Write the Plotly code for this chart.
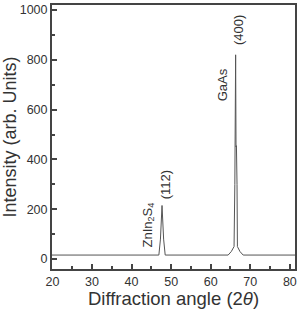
import plotly.graph_objects as go

# XRD profile
two_theta = [19.9, 46.9, 47.3, 47.7, 48.1, 48.5, 64.4, 65.2, 65.9, 66.1, 66.3, 66.4, 66.5, 66.65, 66.75, 67.4, 68.2, 81.3]
intensity = [16, 16, 80, 215, 80, 16, 16, 30, 50, 300, 820, 450, 455, 300, 50, 30, 16, 16]

x_ticks = [20, 30, 40, 50, 60, 70, 80]
y_ticks = [0, 200, 400, 600, 800, 1000]

txt = "#333333"
axc = "#444444"
font = "Liberation Sans, Arial, sans-serif"

fig = go.Figure()
fig.add_trace(go.Scatter(x=two_theta, y=intensity, mode="lines",
                         line=dict(color="#555555", width=1), showlegend=False))

ann = dict(textangle=-90, showarrow=False, font=dict(size=13, color=txt, family=font),
           xref="x", yref="y")
fig.add_annotation(x=44.3, y=137, text="ZnIn<sub>2</sub>S<sub>4</sub>", **ann)
fig.add_annotation(x=48.5, y=297, text="(112)", **ann)
fig.add_annotation(x=63.2, y=699, text="GaAs", **ann)
fig.add_annotation(x=67.2, y=920, text="(400)", **ann)

fig.update_layout(
    width=298, height=309,
    margin=dict(l=52, r=1, t=5, b=40),
    paper_bgcolor="white", plot_bgcolor="white",
    font=dict(family=font, color=txt),
    xaxis=dict(range=[19.9, 81.3], tickvals=x_ticks, ticks="inside", ticklen=5,
               tickcolor=axc, tickwidth=1.5,
               minor=dict(dtick=5, tick0=0, ticks="inside", ticklen=3, tickcolor=axc),
               showline=True, linecolor=axc, linewidth=2, mirror=True,
               showgrid=False, zeroline=False, tickfont=dict(size=12.5, color=txt),
               title=dict(text="Diffraction angle (2<i>θ</i>)", font=dict(size=18.5, color=txt), standoff=2)),
    yaxis=dict(range=[-40, 1020], tickvals=y_ticks, ticks="inside", ticklen=5,
               tickcolor=axc, tickwidth=1.5,
               minor=dict(dtick=100, tick0=0, ticks="inside", ticklen=3, tickcolor=axc),
               showline=True, linecolor=axc, linewidth=2, mirror=True,
               showgrid=False, zeroline=False, tickfont=dict(size=12.5, color=txt),
               title=dict(text="Intensity (arb. Units)", font=dict(size=18, color=txt), standoff=3)),
)

fig.write_html("out.html")
